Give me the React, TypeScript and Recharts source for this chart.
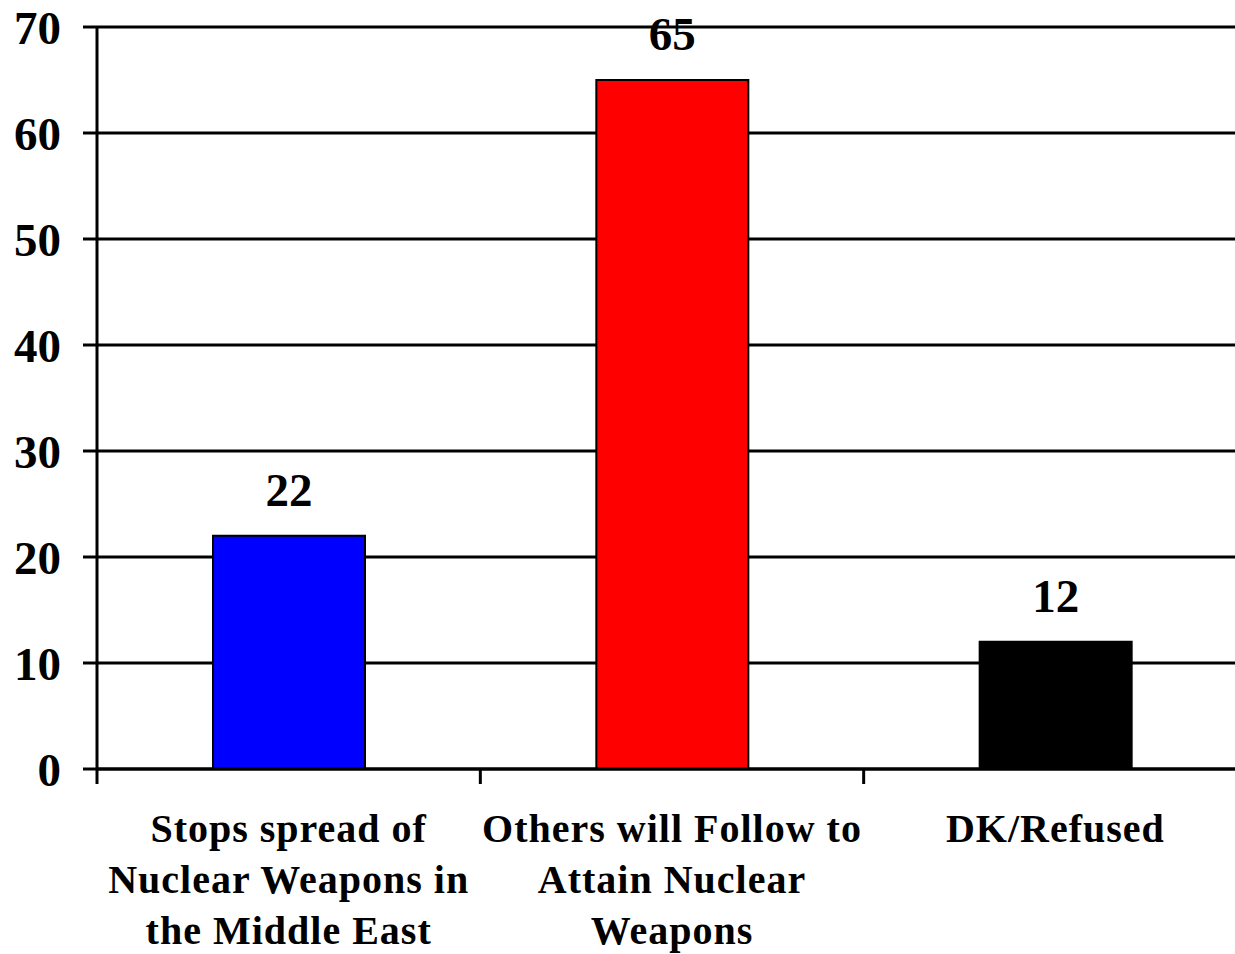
import React from 'react';
import { BarChart, Bar, XAxis, YAxis, CartesianGrid, Cell, LabelList } from 'recharts';

const categories = ['Stops spread of Nuclear Weapons in the Middle East', 'Others will Follow to Attain Nuclear Weapons', 'DK/Refused'];
const categoryLines = [
  ['Stops spread of', 'Nuclear Weapons in', 'the Middle East'],
  ['Others will Follow to', 'Attain Nuclear', 'Weapons'],
  ['DK/Refused'],
];
const values = [22, 65, 12];
const yTicks = [0, 10, 20, 30, 40, 50, 60, 70];
const barColors = ['#0000FF', '#FF0000', '#000000'];

const data = categories.map((c, i) => ({ name: c, idx: i, value: values[i] }));

const CHART_W = 1260;
const CHART_H = 954;
const MARGIN = { top: 27, right: 13, bottom: 0, left: 0 };
const Y_W = 97;
const PLOT_H = 742;
const PLOT_W = CHART_W - MARGIN.left - MARGIN.right - Y_W;
const HALF_BAND = PLOT_W / categories.length / 2;
const FONT = '"Liberation Serif", "Times New Roman", serif';

const CatTick = (props: any) => {
  const { x, y, payload } = props;
  const i = payload.index ?? categories.indexOf(payload.value);
  const lines = categoryLines[i] || [String(payload.value)];
  return (
    <g>
      <line x1={x - HALF_BAND} x2={x - HALF_BAND} y1={y} y2={y + 15} stroke="#000" strokeWidth={3} />
      {i === categories.length - 1 && (
        <line x1={x + HALF_BAND} x2={x + HALF_BAND} y1={y} y2={y + 15} stroke="#000" strokeWidth={3} />
      )}
      <text
        x={x}
        y={y}
        textAnchor="middle"
        fontFamily={FONT}
        fontWeight="bold"
        fontSize={40}
        letterSpacing={1}
        fill="#000"
      >
        {lines.map((l, k) => (
          <tspan key={k} x={x} y={y + 73 + k * 51}>
            {l}
          </tspan>
        ))}
      </text>
    </g>
  );
};

export default function App() {
  return (
    <div
      style={{
        position: 'fixed',
        left: 0,
        top: 0,
        width: 1235,
        height: 954,
        overflow: 'hidden',
        background: '#fff',
      }}
    >
      <BarChart width={CHART_W} height={CHART_H} data={data} margin={MARGIN}>
        <CartesianGrid vertical={false} stroke="#000" strokeWidth={3} />
        <XAxis
          dataKey="name"
          height={CHART_H - MARGIN.top - PLOT_H}
          axisLine={{ stroke: '#000', strokeWidth: 3 }}
          tickLine={false}
          tickSize={0}
          tickMargin={0}
          interval={0}
          tick={<CatTick />}
        />
        <YAxis
          width={Y_W}
          domain={[0, 70]}
          ticks={yTicks}
          interval={0}
          tickSize={14}
          tickMargin={22}
          axisLine={{ stroke: '#000', strokeWidth: 3 }}
          tickLine={{ stroke: '#000', strokeWidth: 3 }}
          tick={{ fill: '#000', fontFamily: FONT, fontWeight: 'bold', fontSize: 47 }}
        />
        <Bar dataKey="value" barSize={152} stroke="#000" strokeWidth={2} isAnimationActive={false}>
          {data.map((d, i) => (
            <Cell key={i} fill={barColors[i]} />
          ))}
          <LabelList
            dataKey="value"
            position="top"
            offset={30}
            fill="#000"
            fontFamily={FONT}
            fontWeight="bold"
            fontSize={47}
          />
        </Bar>
      </BarChart>
    </div>
  );
}
